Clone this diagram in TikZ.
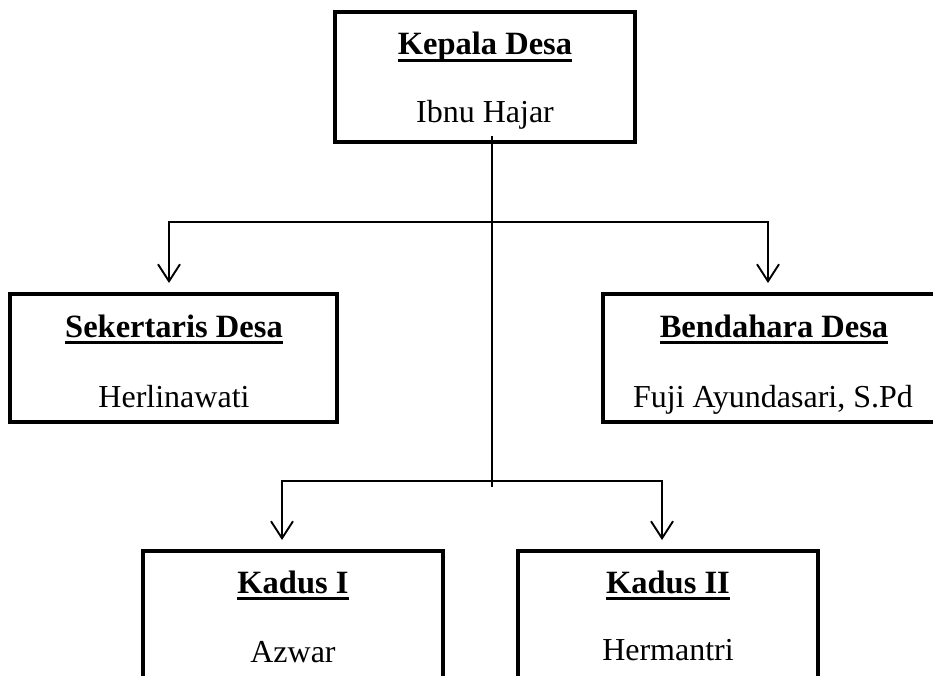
\documentclass[tikz,border=0pt]{standalone}
\usepackage{fontspec}
\setmainfont{Liberation Serif}
\usetikzlibrary{arrows.meta}
\newcommand{\myul}[1]{\setbox0\hbox{#1}\rlap{\rule[-7pt]{\wd0}{3pt}}\box0}
\begin{document}
\begin{tikzpicture}[x=1pt,y=-1pt,
  orgbox/.style={draw=black,line width=4.8pt,rectangle,inner sep=0pt},
  ttl/.style={anchor=base,inner sep=0pt,font=\fontsize{32.5}{36}\selectfont\bfseries},
  nm/.style={anchor=base,inner sep=0pt,font=\fontsize{32}{36}\selectfont},
  conn/.style={draw=black,line width=1.9pt},
  arr/.style={conn,-{Straight Barb[length=17pt,width=22pt,line width=1.9pt]}}]
\useasboundingbox (0,0) rectangle (933,676);
% boxes
\node[orgbox,minimum width=300pt,minimum height=130pt] (kd) at (485,77) {};
\node[orgbox,minimum width=327pt,minimum height=128pt] (sd) at (173.5,358) {};
\node[orgbox,minimum width=332pt,minimum height=128pt] (bd) at (769,358) {};
\node[orgbox,minimum width=300pt,minimum height=200pt] (k1) at (293,651) {};
\node[orgbox,minimum width=300pt,minimum height=200pt] (k2) at (668,651) {};
% texts
\node[ttl] (kdt) at (485,55) {\myul{Kepala Desa}};
\node[nm] (kdn) at (485,123) {Ibnu Hajar};
\node[ttl] (sdt) at (174,337) {\myul{Sekertaris Desa}};
\node[nm] (sdn) at (174,407) {Herlinawati};
\node[ttl] (bdt) at (774,337) {\myul{Bendahara Desa}};
\node[nm] (bdn) at (773,407) {Fuji Ayundasari, S.Pd};
\node[ttl] (k1t) at (293,593) {\myul{Kadus I}};
\node[nm] (k1n) at (293,662) {Azwar};
\node[ttl] (k2t) at (668,593) {\myul{Kadus II}};
\node[nm] (k2n) at (668,660) {Hermantri};
% connector points
\coordinate (v0) at (492,136);
\coordinate (v1) at (492,487);
\coordinate (h1l) at (169,222);
\coordinate (h1r) at (768,222);
\coordinate (a1l) at (169,283);
\coordinate (a1r) at (768,283);
\coordinate (h2l) at (282,481);
\coordinate (h2r) at (662,481);
\coordinate (a2l) at (282,540);
\coordinate (a2r) at (662,540);
\draw[conn] (v0) -- (v1);
\draw[arr] (h1r) -- (h1l) -- (a1l);
\draw[arr] (h1l) -- (h1r) -- (a1r);
\draw[arr] (h2r) -- (h2l) -- (a2l);
\draw[arr] (h2l) -- (h2r) -- (a2r);
\end{tikzpicture}
\end{document}
